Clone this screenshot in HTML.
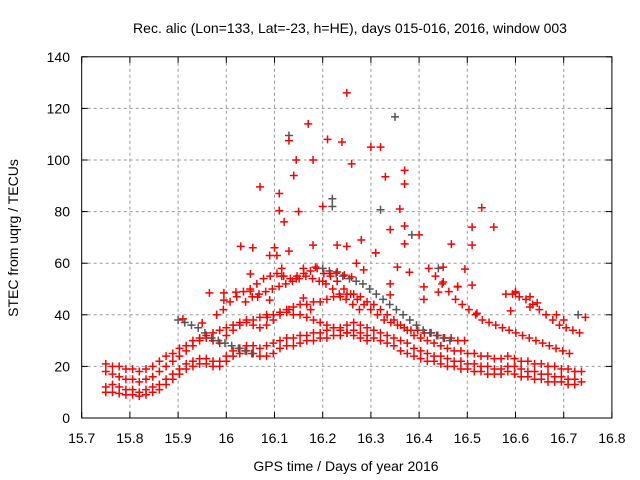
<!DOCTYPE html>
<html><head><meta charset="utf-8"><style>
body{margin:0;background:#fff}
svg{display:block;font-family:"Liberation Sans",sans-serif}
</style></head><body>
<svg id="chart" width="640" height="480" viewBox="0 0 640 480">
<rect width="640" height="480" fill="#fff"/>
<g id="grid"></g>
<g id="axes"></g>
<g id="pts"></g>
<text x="350" y="33" font-size="14" text-anchor="middle">Rec. alic (Lon=133, Lat=-23, h=HE), days 015-016, 2016, window 003</text>
<text x="346" y="471" font-size="14" text-anchor="middle">GPS time / Days of year 2016</text>
<text x="18" y="238" font-size="14" text-anchor="middle" transform="rotate(-90 18 238)">STEC from uqrg / TECUs</text>
</svg>
<script>
const xTicks=[15.7,15.8,15.9,16.0,16.1,16.2,16.3,16.4,16.5,16.6,16.7,16.8];
const xTickLabels=["15.7","15.8","15.9","16","16.1","16.2","16.3","16.4","16.5","16.6","16.7","16.8"];
const yTicks=[0,20,40,60,80,100,120,140];
const arcStep=0.0139;
const arcStarts=[15.75,15.75,15.75,15.98,15.9,16.58,16.42,16.2,16.04,15.75];
const arcColors=["red","red","red","red","gray","red","red","gray","red","red"];
const arcA=[10,10,9.5,9,9,8.5,9,10,11,13,15,17,19,20,21,21,20,20,22,24,25,26,25,24,24,25,27,28,28,29,30,30,31,31,32,32,33,34,33,32,31,30,29,28,26,25,24,23,22,22,21,20,20,19,19,18,18,17,17,17,18,17,16,16,15,15,14,14,14,13,13];
const arcB=[12,13,12,11,11,10,11,12,13,15,17,19,21,22,23,23,22,22,24,26,27,28,28,27,28,29,30,31,31,32,32,33,33,34,35,35,36,37,36,35,34,33,32,31,30,29,27,26,25,24,24,23,22,22,21,21,20,20,19,19,20,20,19,18,18,17,17,16,16,15,15,14];
const arcC=[18,17,16,15,15,14,15,16,18,20,22,24,26,28,30,31,30,29,32,34,36,37,36,35,36,38,40,42,43,44,44,45,45,46,47,47,48,48,47,45,44,42,40,38,36,34,32,31,30,29,28,27,26,26,25,25,24,24,23,23,24,23,22,22,21,21,20,20,19,19,18,18];
const arcD=[40,42,45,47,49,50,52,54,55,56,55,54,55,56,57,58,56,55,53,50,48,46,44,42,40,38,37,36,35,34,34,33,33,32,31,31,30,30];
const arcE=[38,37,36,35,33,31,30,29,28,27,26,25];
const arcF=[48,48,47,46,44,42,40,38,36,35,34,33];
const arcG=[58,55,52,49,46,44,42,40,38,37,36,35,34,33,32,31,30,29,28,27,26,25];
const arcH=[58,57,56,55,54,53,52,50,48,46,44,42,40,38,36,34,33,32,31,30];
const arcI=[45,47,48,49,50,51,52,53,54,55,54,53,52,50,48,46,44,42];
const arcJ=[21,20,20,19,19,18,19,20,22,24,25,27,28,30,31,32,33,34,35,36,37,38,38,39,40,40,41,41,40,40,39,38,37,36,35,34,33,32,31,30];
const arcs=[arcA,arcB,arcC,arcD,arcE,arcF,arcG,arcH,arcI,arcJ];
const scatterX=[16.25,16.17,16.13,16.13,16.21,16.24,16.30,16.32,16.35,16.145,16.18,16.26,16.33,16.14,16.07,16.37,16.37,16.32,16.36,16.11,16.11,16.15,16.2,16.22,16.22,16.385,16.53,16.555,16.51,16.055,16.03,16.10,16.18,16.23,16.25,16.28,16.37,16.34,16.12,16.27,16.09,16.16,16.31,16.44,16.48,16.6,16.7,16.73];
const scatterY=[126,114,109.5,107.5,108,107,105,105,116.7,100,100,98.5,93.5,94,89.6,90.7,96,80.7,81,87,80.4,80,82,85,82,71,81.5,74,67,66,66.5,66,67,67,66.5,69,67.5,73,76,60,63,58,64,58,51,49,38,40];
const scatterC=["red","red","gray","red","red","red","red","red","gray","red","red","red","red","red","red","red","red","gray","red","red","red","red","red","gray","gray","gray","red","red","red","red","red","red","red","red","red","red","red","red","red","red","red","red","red","gray","red","red","red","gray"];
const midX=[16.105,16.13,16.05,15.965,15.995,15.995,16.02,16.05,16.065,16.09,16.115,16.115,16.145,16.16,16.185,16.2,16.215,16.23,16.23,16.245,16.26,16.285,16.31,16.34,16.34,16.355,16.38,16.41,16.41,16.44,16.45,16.45,16.48,16.495,16.51,16.467,16.51,16.40,16.37,16.52,16.6,16.63,16.645,16.63,16.745,16.685,16.59,16.175,16.13,16.085,15.98,15.91,15.95];
const midY=[63,64.7,55.8,48.5,48.5,45.7,48.8,49.2,46.9,45.7,58,55,54,46.5,58.5,53,56,56.6,53,55.4,54.7,57.4,64,52,47.7,58.5,56.5,50.8,46,48.8,58.5,52.7,50.8,57.7,51.5,67.4,74,71,74.4,40.6,48.5,47,44.6,43,39,40,41.5,42,42,39,40,38.4,36.8];
const X0=81.7,XS=482,Y0=418,YS=2.58;
const xp=v=>X0+(v-15.7)*XS, yp=v=>Y0-v*YS;
const NS="http://www.w3.org/2000/svg";
function mk(t,a,p){const e=document.createElementNS(NS,t);for(const k in a)e.setAttribute(k,a[k]);p.appendChild(e);return e;}
const grid=document.getElementById('grid'),axes=document.getElementById('axes'),pts=document.getElementById('pts');
xTicks.forEach((t,i)=>{const x=xp(t);
 if(i>0&&i<xTicks.length-1){const g=mk('line',{x1:x,x2:x,y1:yp(140),y2:Y0,stroke:'#999','stroke-dasharray':'3,3'},grid);
 
 }
 mk('line',{x1:x,x2:x,y1:Y0,y2:Y0-6,stroke:'#000'},axes);mk('line',{x1:x,x2:x,y1:yp(140),y2:yp(140)+6,stroke:'#000'},axes);
 const tx=mk('text',{x:x,y:443,'font-size':14,'text-anchor':'middle'},axes);tx.textContent=xTickLabels[i];
 
 });
yTicks.forEach((t,i)=>{const y=yp(t);
 if(i>0&&i<yTicks.length-1){const g=mk('line',{x1:X0,x2:xp(16.8),y1:y,y2:y,stroke:'#999','stroke-dasharray':'3,3'},grid);
 
 }
 mk('line',{x1:X0,x2:X0+6,y1:y,y2:y,stroke:'#000'},axes);mk('line',{x1:xp(16.8),x2:xp(16.8)-6,y1:y,y2:y,stroke:'#000'},axes);
 const tx=mk('text',{x:70,y:y+5,'font-size':14,'text-anchor':'end'},axes);tx.textContent=String(t);
 
 });
const fr=mk('rect',{x:X0,y:yp(140),width:xp(16.8)-X0,height:Y0-yp(140),fill:'none',stroke:'#000'},axes);


function plus(xv,yv,c){const x=xp(xv),y=yp(yv),col=c==='gray'?'#555':'#f00';
 const p=mk('path',{d:`M${x-4},${y}H${x+4}M${x},${y-4}V${y+4}`,stroke:col,'stroke-width':1.5,fill:'none'},pts);
 
 }
arcs.forEach((a,k)=>a.forEach((v,i)=>plus(arcStarts[k]+i*arcStep,v,arcColors[k])));
scatterX.forEach((v,i)=>plus(v,scatterY[i],scatterC[i]));
midX.forEach((v,i)=>plus(v,midY[i],'red'));
</script>
</body></html>
